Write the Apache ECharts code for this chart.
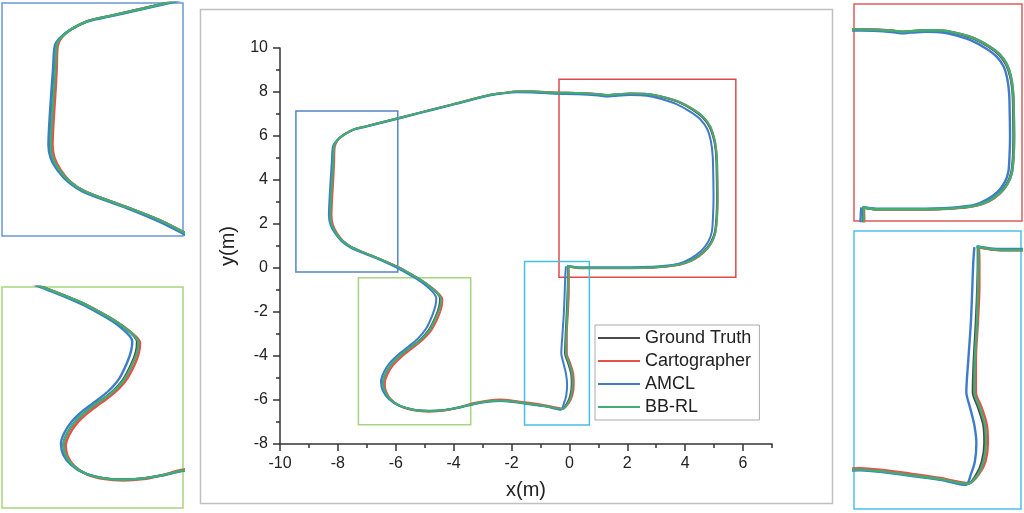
<!DOCTYPE html>
<html>
<head>
<meta charset="utf-8">
<script src="https://cdn.jsdelivr.net/npm/echarts@6/dist/echarts.min.js"></script>
<style>html,body{margin:0;padding:0;background:#fff}#c{width:1024px;height:513px}</style>
</head>
<body>
<div id="c"></div>
<script>
const seriesNames = ['Ground Truth', 'Cartographer', 'AMCL', 'BB-RL'];
const xTickValues = [-10, -8, -6, -4, -2, 0, 2, 4, 6];

const groundTruth = [
[-0.05,0.08],[0.4,0.0],[1.5,0.0],[2.5,0.01],[3.2,0.06],[3.8,0.16],[4.25,0.38],[4.62,0.72],[4.88,1.15],[5.02,1.6],
[5.08,2.3],[5.1,3.2],[5.09,4.2],[5.07,5.1],[5.0,5.8],[4.85,6.4],[4.6,6.85],[4.25,7.2],[3.75,7.55],[3.2,7.77],
[2.7,7.9],[2.1,7.92],[1.55,7.88],[1.3,7.85],[1.0,7.9],[0.3,7.95],[-0.5,7.97],[-1.3,8.02],[-1.8,8.02],[-2.3,7.95],
[-2.8,7.85],[-4.0,7.45],[-5.2,7.05],[-6.3,6.68],[-7.0,6.45],[-7.45,6.3],[-7.8,6.05],[-8.02,5.8],[-8.13,5.55],[-8.17,4.8],
[-8.21,4.0],[-8.25,3.1],[-8.27,2.4],[-8.22,2.0],[-8.08,1.62],[-7.85,1.25],[-7.55,0.96],[-7.1,0.7],[-6.5,0.38],[-5.93,0.05],
[-5.45,-0.3],[-5.05,-0.62],[-4.75,-0.92],[-4.55,-1.18],[-4.47,-1.38],[-4.5,-1.75],[-4.62,-2.2],[-4.85,-2.8],[-5.15,-3.25],[-5.5,-3.62],
[-5.85,-3.98],[-6.15,-4.38],[-6.35,-4.8],[-6.44,-5.2],[-6.38,-5.6],[-6.18,-5.98],[-5.85,-6.27],[-5.35,-6.45],[-4.85,-6.5],[-4.3,-6.45],
[-3.8,-6.33],[-3.3,-6.17],[-2.8,-6.06],[-2.4,-6.02],[-1.95,-6.07],[-1.4,-6.17],[-0.8,-6.28],[-0.25,-6.41],[-0.08,-6.15],[0.03,-5.8],
[0.08,-5.3],[0.06,-4.8],[-0.05,-4.3],[-0.15,-3.9],[-0.13,-3.0],[-0.09,-2.0],[-0.06,-1.0],[-0.05,-0.3],[-0.05,0.1]
];

const cartographer = [
[-0.04,0.07],[0.4,-0.01],[1.5,-0.01],[2.5,0.0],[3.2,0.05],[3.8,0.15],[4.27,0.36],[4.64,0.7],[4.9,1.13],[5.04,1.59],
[5.1,2.3],[5.12,3.2],[5.11,4.2],[5.09,5.1],[5.02,5.81],[4.87,6.42],[4.62,6.87],[4.27,7.22],[3.76,7.57],[3.2,7.79],
[2.7,7.91],[2.1,7.93],[1.55,7.89],[1.3,7.86],[1.0,7.91],[0.3,7.96],[-0.5,7.98],[-1.3,8.02],[-1.8,8.02],[-2.3,7.95],
[-2.8,7.85],[-4.0,7.45],[-5.2,7.05],[-6.3,6.68],[-7.0,6.45],[-7.45,6.3],[-7.8,6.05],[-8.01,5.8],[-8.11,5.5],[-8.13,4.8],
[-8.16,4.0],[-8.2,3.1],[-8.22,2.4],[-8.18,2.0],[-8.05,1.62],[-7.83,1.24],[-7.53,0.95],[-7.08,0.69],[-6.48,0.37],[-5.9,0.03],
[-5.42,-0.32],[-5.01,-0.65],[-4.69,-0.96],[-4.48,-1.22],[-4.39,-1.42],[-4.42,-1.79],[-4.54,-2.24],[-4.78,-2.84],[-5.09,-3.29],[-5.44,-3.66],
[-5.79,-4.02],[-6.09,-4.42],[-6.29,-4.84],[-6.38,-5.24],[-6.33,-5.63],[-6.14,-6.01],[-5.82,-6.3],[-5.33,-6.48],[-4.85,-6.53],[-4.3,-6.48],
[-3.8,-6.33],[-3.3,-6.14],[-2.8,-6.02],[-2.4,-5.98],[-1.95,-6.03],[-1.4,-6.13],[-0.8,-6.25],[-0.22,-6.39],[-0.02,-6.13],[0.1,-5.8],
[0.15,-5.3],[0.13,-4.8],[0.02,-4.3],[-0.09,-3.9],[-0.09,-3.0],[-0.05,-2.0],[-0.02,-1.0],[-0.02,-0.3],[-0.03,0.1]
];

const amcl = [
[-0.08,0.1],[0.4,0.03],[1.5,0.03],[2.5,0.04],[3.2,0.09],[3.78,0.2],[4.2,0.44],[4.56,0.78],[4.8,1.2],[4.92,1.64],
[4.96,2.3],[4.98,3.2],[4.97,4.2],[4.95,5.1],[4.89,5.75],[4.76,6.32],[4.52,6.76],[4.17,7.11],[3.68,7.46],[3.15,7.69],
[2.68,7.83],[2.1,7.86],[1.55,7.82],[1.3,7.79],[1.0,7.84],[0.3,7.9],[-0.5,7.92],[-1.3,7.98],[-1.8,7.99],[-2.3,7.93],
[-2.8,7.83],[-4.0,7.43],[-5.2,7.03],[-6.3,6.66],[-7.0,6.43],[-7.46,6.28],[-7.83,6.03],[-8.05,5.78],[-8.17,5.53],[-8.21,4.8],
[-8.25,4.0],[-8.29,3.1],[-8.31,2.4],[-8.26,1.98],[-8.11,1.6],[-7.88,1.23],[-7.58,0.94],[-7.13,0.68],[-6.53,0.36],[-5.97,0.02],
[-5.5,-0.32],[-5.12,-0.63],[-4.85,-0.92],[-4.67,-1.17],[-4.6,-1.36],[-4.63,-1.72],[-4.74,-2.16],[-4.95,-2.75],[-5.23,-3.2],[-5.57,-3.58],
[-5.92,-3.94],[-6.22,-4.34],[-6.42,-4.76],[-6.51,-5.17],[-6.45,-5.57],[-6.24,-5.95],[-5.9,-6.25],[-5.38,-6.44],[-4.85,-6.49],[-4.3,-6.45],
[-3.8,-6.35],[-3.3,-6.19],[-2.8,-6.08],[-2.4,-6.04],[-1.95,-6.09],[-1.4,-6.19],[-0.8,-6.3],[-0.29,-6.44],[-0.19,-6.15],[-0.11,-5.8],
[-0.08,-5.3],[-0.12,-4.8],[-0.21,-4.3],[-0.28,-3.9],[-0.24,-3.0],[-0.19,-2.0],[-0.16,-1.0],[-0.14,-0.3],[-0.12,0.08]
];

const bbrl = [
[-0.04,0.09],[0.4,0.0],[1.5,0.0],[2.5,0.01],[3.2,0.06],[3.8,0.16],[4.26,0.37],[4.63,0.71],[4.9,1.14],[5.04,1.6],
[5.1,2.3],[5.12,3.2],[5.11,4.2],[5.09,5.1],[5.02,5.81],[4.87,6.42],[4.62,6.87],[4.26,7.22],[3.76,7.57],[3.2,7.79],
[2.7,7.91],[2.1,7.93],[1.55,7.89],[1.3,7.86],[1.0,7.9],[0.3,7.95],[-0.5,7.97],[-1.3,8.02],[-1.8,8.02],[-2.3,7.95],
[-2.8,7.85],[-4.0,7.45],[-5.2,7.05],[-6.3,6.68],[-7.0,6.45],[-7.45,6.3],[-7.8,6.05],[-8.02,5.8],[-8.13,5.55],[-8.16,4.8],
[-8.2,4.0],[-8.24,3.1],[-8.26,2.4],[-8.22,2.0],[-8.08,1.62],[-7.85,1.25],[-7.55,0.96],[-7.1,0.7],[-6.5,0.38],[-5.93,0.05],
[-5.45,-0.3],[-5.05,-0.62],[-4.75,-0.92],[-4.53,-1.19],[-4.44,-1.39],[-4.47,-1.76],[-4.6,-2.21],[-4.83,-2.81],[-5.14,-3.26],[-5.5,-3.62],
[-5.85,-3.98],[-6.15,-4.38],[-6.35,-4.8],[-6.44,-5.2],[-6.38,-5.6],[-6.18,-5.98],[-5.85,-6.27],[-5.35,-6.45],[-4.85,-6.5],[-4.3,-6.45],
[-3.8,-6.33],[-3.3,-6.17],[-2.8,-6.06],[-2.4,-6.02],[-1.95,-6.07],[-1.4,-6.17],[-0.8,-6.28],[-0.25,-6.41],[-0.05,-6.15],[0.06,-5.8],
[0.11,-5.3],[0.09,-4.8],[-0.02,-4.3],[-0.12,-3.9],[-0.11,-3.0],[-0.07,-2.0],[-0.05,-1.0],[-0.04,-0.3],[-0.04,0.12]
];

// zoom rectangles drawn on the main plot (data coordinates): [xMin, xMax, yMin, yMax]
const boxBlue  = [-9.45, -5.93, -0.18, 7.14];
const boxRed   = [-0.36, 5.75, -0.42, 8.58];
const boxGreen = [-7.29, -3.41, -7.12, -0.44];
const boxCyan  = [-1.55, 0.69, -7.14, 0.29];

// data ranges shown in the four inset panels: [xMin, xMax, yMin, yMax]
const viewBlue  = [-9.31, -5.41, -0.46, 6.86];
const viewGreen = [-8.09, -3.24, -7.55, 0.65];
const viewRed   = [-0.37, 5.39, -0.52, 9.09];
const viewCyan  = [-2.52, 0.81, -7.10, 0.52];

const seriesData = [groundTruth, cartographer, amcl, bbrl];
const lineColors = ['#4a4a4a', '#e8504a', '#3d7cc9', '#3fae72'];
const FONT = '"Liberation Sans", Arial, sans-serif';

const chart = echarts.init(document.getElementById('c'), null, {renderer: 'canvas'});

const boxes = [
  {b: boxBlue, c: '#5584c4'},
  {b: boxRed, c: '#e0494a'},
  {b: boxGreen, c: '#a8d47e'},
  {b: boxCyan, c: '#45bfe6'}
];
const views = [
  {v: viewBlue,  c: '#6a97d2', grid: {left: 2, top: 3, width: 181, height: 233}},
  {v: viewGreen, c: '#a8d47e', grid: {left: 2, top: 287, width: 181, height: 221}},
  {v: viewRed,   c: '#e25a5a', grid: {left: 854, top: 4, width: 168, height: 217}},
  {v: viewCyan,  c: '#4fc0e6', grid: {left: 854, top: 231, width: 167, height: 278}}
];

const grids = [{left: 280, top: 48, width: 492, height: 396, containLabel: false}];
views.forEach(o => grids.push(Object.assign({show: true, borderColor: o.c, borderWidth: 1.5, backgroundColor: 'rgba(0,0,0,0)'}, o.grid)));

const axisCol = '#333';
const xAxes = [
  {type: 'value', gridIndex: 0, position: 'bottom', min: -10, max: 7, interval: 1,
   axisLine: {show: true, onZero: false, lineStyle: {color: axisCol, width: 1.5}},
   axisTick: {show: true, length: 4, lineStyle: {color: axisCol, width: 1.5}},
   axisLabel: {show: false}, splitLine: {show: false}},
  {type: 'value', gridIndex: 0, position: 'bottom', min: -10, max: 7, interval: 1,
   axisLine: {show: false, onZero: false},
   axisTick: {show: true, length: 7, customValues: xTickValues, lineStyle: {color: axisCol, width: 1.5}},
   axisLabel: {show: true, customValues: xTickValues, margin: 12, fontSize: 16, color: '#222', fontFamily: FONT},
   splitLine: {show: false},
   name: 'x(m)', nameLocation: 'middle', nameGap: 36,
   nameTextStyle: {fontSize: 20, color: '#222', fontFamily: FONT}}
];
const yAxes = [
  {type: 'value', gridIndex: 0, min: -8, max: 10, interval: 2,
   axisLine: {show: true, onZero: false, lineStyle: {color: axisCol, width: 1.5}},
   axisTick: {show: true, length: 7, lineStyle: {color: axisCol, width: 1.5}},
   minorTick: {show: true, splitNumber: 2, length: 4, lineStyle: {color: axisCol, width: 1.5}},
   axisLabel: {margin: 12, fontSize: 16, color: '#222', fontFamily: FONT},
   splitLine: {show: false},
   name: 'y(m)', nameLocation: 'middle', nameGap: 42,
   nameTextStyle: {fontSize: 20, color: '#222', fontFamily: FONT}}
];
views.forEach((o, i) => {
  xAxes.push({type: 'value', gridIndex: i + 1, min: o.v[0], max: o.v[1], show: false, splitLine: {show: false}});
  yAxes.push({type: 'value', gridIndex: i + 1, min: o.v[2], max: o.v[3], show: false, splitLine: {show: false}});
});

const series = [];
seriesNames.forEach((name, k) => {
  const s = {
    name: name, type: 'line', data: seriesData[k], xAxisIndex: 0, yAxisIndex: 0,
    showSymbol: false, symbol: 'none', smooth: 0.3, clip: true,
    color: lineColors[k], itemStyle: {color: lineColors[k]},
    lineStyle: {color: lineColors[k], width: 2}, z: 2 + k
  };
  if (k === 0) {
    s.markArea = {
      silent: true, label: {show: false},
      data: boxes.map(o => [
        {coord: [o.b[0], o.b[2]], itemStyle: {color: 'rgba(0,0,0,0)', borderColor: o.c, borderWidth: 1.5}},
        {coord: [o.b[1], o.b[3]]}
      ])
    };
  }
  series.push(s);
});
views.forEach((o, i) => {
  seriesNames.forEach((name, k) => {
    series.push({
      name: name, type: 'line', data: seriesData[k], xAxisIndex: 2 + i, yAxisIndex: 1 + i,
      showSymbol: false, symbol: 'none', smooth: 0.3, clip: true,
      color: lineColors[k], itemStyle: {color: lineColors[k]},
      lineStyle: {color: lineColors[k], width: 2.4}, z: 2 + k
    });
  });
});

chart.setOption({
  animation: false,
  backgroundColor: '#fff',
  textStyle: {fontFamily: FONT},
  grid: grids,
  xAxis: xAxes,
  yAxis: yAxes,
  legend: {
    data: seriesNames, left: 595, top: 325, orient: 'vertical',
    icon: 'rect', itemWidth: 42, itemHeight: 2, itemGap: 3,
    padding: [3, 8, 3, 3], borderColor: '#aaa', borderWidth: 1, backgroundColor: '#fff',
    textStyle: {fontSize: 18, lineHeight: 20, color: '#222', fontFamily: FONT}
  },
  graphic: [{
    type: 'rect', silent: true, z: -10,
    shape: {x: 200.5, y: 9.5, width: 632, height: 494},
    style: {fill: 'none', stroke: '#c0c0c0', lineWidth: 1.5}
  }],
  series: series
});
</script>
</body>
</html>
